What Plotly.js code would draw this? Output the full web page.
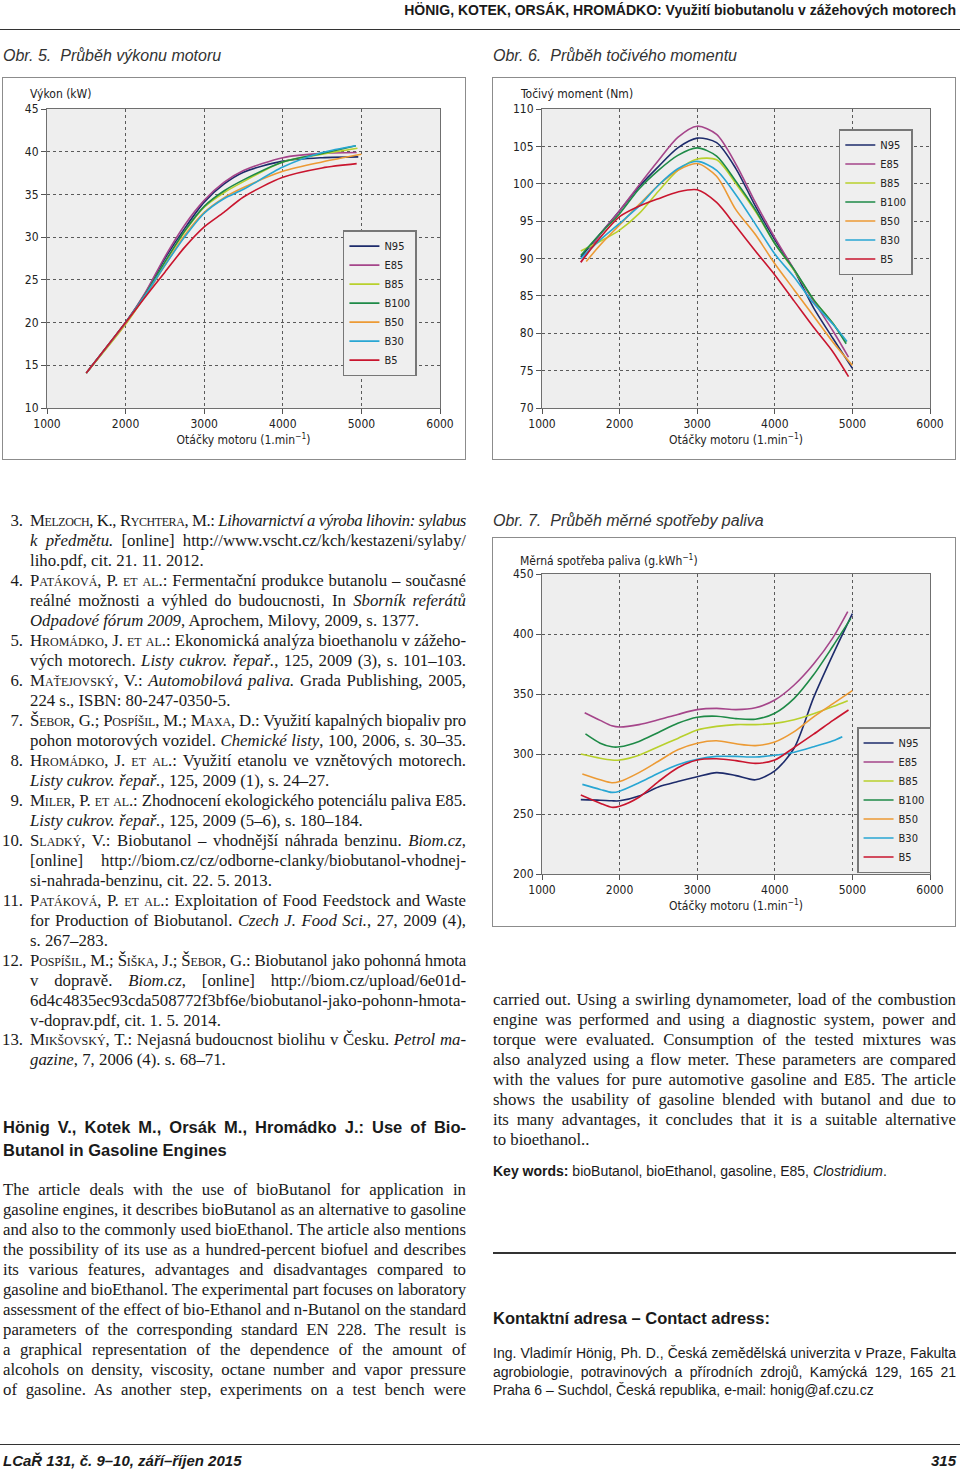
<!DOCTYPE html>
<html><head><meta charset="utf-8">
<script src="https://cdn.plot.ly/plotly-3.0.1.min.js"></script>
<style>
body{margin:0;background:#fff;}
#page{position:relative;width:960px;height:1471px;overflow:hidden;font-family:"Liberation Serif","Times New Roman",serif;color:#1a1a1a;}
.frame{position:absolute;border:1.5px solid #8c8c8c;box-sizing:border-box;pointer-events:none;}
.plot{position:absolute;}
.cap{position:absolute;font-family:"Liberation Sans",Arial,sans-serif;font-style:italic;font-size:16px;color:#333;line-height:20px;white-space:nowrap;}
.ln{position:absolute;font-size:16.8px;line-height:20px;height:20px;white-space:nowrap;text-align:left;}
.sc{font-variant:small-caps;}
.num{position:absolute;left:-32px;width:25px;text-align:right;}
.sans{font-family:"Liberation Sans",Arial,sans-serif;}
.rule{position:absolute;background:#333;}
</style>
</head><body><div id="page">

<div class="rule" style="left:0;top:29px;width:960px;height:1px;"></div>
<div class="sans" style="position:absolute;right:4px;top:1px;font-size:14px;font-weight:bold;line-height:18px;white-space:nowrap;">HÖNIG, KOTEK, ORSÁK, HROMÁDKO: Využití biobutanolu v zážehových motorech</div>

<div class="cap" style="left:3px;top:46px;">Obr. 5.&nbsp; Průběh výkonu motoru</div>
<div class="cap" style="left:493px;top:46px;">Obr. 6.&nbsp; Průběh točivého momentu</div>
<div class="cap" style="left:493px;top:511px;">Obr. 7.&nbsp; Průběh měrné spotřeby paliva</div>

<div id="c1" class="plot" style="left:2px;top:77px;width:464px;height:383px;"></div>
<div class="frame" style="left:2px;top:77px;width:464px;height:383px;"></div>
<div id="c2" class="plot" style="left:492px;top:77px;width:464px;height:383px;"></div>
<div class="frame" style="left:492px;top:77px;width:464px;height:383px;"></div>
<div id="c3" class="plot" style="left:492px;top:537px;width:464px;height:390px;"></div>
<div class="frame" style="left:492px;top:537px;width:464px;height:390px;"></div>

<div id="txt"></div>

<div class="rule" style="left:493px;top:1252px;width:463px;height:2px;"></div>
<div class="rule" style="left:0;top:1444px;width:960px;height:1px;"></div>
<div class="sans" style="position:absolute;left:3px;top:1452px;font-size:15px;font-weight:bold;font-style:italic;line-height:18px;">LCaŘ 131, č. 9–10, září–říjen 2015</div>
<div class="sans" style="position:absolute;right:4px;top:1452px;font-size:15px;font-weight:bold;font-style:italic;line-height:18px;">315</div>

</div>
<script>
// ---------- DATA ----------
const seriesNames = ['N95', 'E85', 'B85', 'B100', 'B50', 'B30', 'B5'];
const seriesColors = ['#1d2b6b', '#a5458a', '#b8d02c', '#1e8a47', '#ec9a34', '#28a6d3', '#c9152e'];
const xTicks = [1000, 2000, 3000, 4000, 5000, 6000];

// Obr. 5 – Výkon (kW)
const powerRpm = [1500, 2000, 2250, 2500, 2750, 3000, 3250, 3500, 4000, 4500];
const powerEndRpm = [4960, 4940, 4950, 4930, 5000, 4930, 4940];
const powerN95  = [14.1, 20.0, 23.4, 27.5, 31.0, 34.1, 36.2, 37.6, 38.9, 39.3, 39.4];
const powerE85  = [14.1, 20.0, 23.5, 27.7, 31.4, 34.3, 36.4, 37.8, 39.3, 39.8, 39.9];
const powerB85  = [14.1, 19.8, 23.2, 27.0, 30.6, 33.5, 35.2, 36.5, 38.8, 39.7, 40.4];
const powerB100 = [14.1, 20.0, 23.3, 27.1, 30.7, 33.6, 35.4, 36.7, 38.8, 39.8, 40.7];
const powerB50  = [14.1, 19.9, 23.1, 26.7, 30.2, 32.9, 34.6, 35.8, 37.7, 38.8, 39.7];
const powerB30  = [14.1, 20.0, 23.2, 26.7, 30.0, 32.8, 34.5, 35.6, 38.2, 39.9, 40.7];
const powerB5   = [14.1, 20.0, 23.0, 25.9, 28.8, 31.2, 32.9, 34.7, 37.0, 38.1, 38.6];

// Obr. 6 – Točivý moment (Nm)
const torqueRpm = [1500, 1750, 2000, 2250, 2500, 2750, 3000, 3250, 3500, 3750, 4000, 4250, 4500, 4750];
const torqueStartRpm = [1500, 1500, 1500, 1500, 1570, 1500, 1500];
const torqueEndRpm = [5000, 4950, 4920, 4920, 5000, 4930, 4950];
const torqueN95  = [90.2, 93.3, 96.4, 99.6, 102.3, 104.8, 106.1, 105.5, 102.0, 97.0, 92.5, 88.4, 83.4, 79.3, 75.3];
const torqueE85  = [89.5, 93.2, 96.4, 99.8, 103.1, 106.2, 107.7, 106.6, 102.6, 97.5, 92.8, 88.5, 84.3, 80.3, 76.8];
const torqueB85  = [91.0, 92.3, 93.8, 96.0, 99.0, 101.8, 103.3, 103.2, 100.0, 96.3, 92.0, 88.4, 84.5, 81.3, 78.8];
const torqueB100 = [90.4, 93.3, 96.0, 99.3, 101.8, 103.8, 104.8, 103.7, 100.3, 96.5, 92.0, 88.5, 84.5, 81.3, 78.6];
const torqueB50  = [89.6, 91.8, 94.5, 97.2, 99.8, 101.8, 102.7, 101.0, 96.5, 93.2, 89.3, 85.8, 82.3, 78.8, 75.7];
const torqueB30  = [90.0, 92.5, 94.7, 97.0, 99.8, 102.0, 103.0, 101.8, 98.5, 94.6, 90.6, 87.5, 84.0, 81.2, 78.9];
const torqueB5   = [89.5, 92.8, 95.6, 97.0, 98.0, 98.9, 99.2, 97.5, 94.3, 91.0, 87.8, 84.3, 80.8, 77.5, 74.2];

// Obr. 7 – Měrná spotřeba paliva (g.kWh-1)
const bsfcRpm = [1500, 1750, 1900, 2000, 2250, 2500, 2750, 3000, 3250, 3500, 3750, 4000, 4250, 4500, 4750];
const bsfcStartRpm = [1500, 1550, 1500, 1560, 1520, 1520, 1500];
const bsfcEndRpm = [5000, 4940, 4940, 4980, 5000, 4870, 4950];
const bsfcN95  = [262, 261.5, 261, 261, 265, 272.5, 277, 281, 284.5, 282, 278.5, 286, 305, 347, 383, 417];
const bsfcE85  = [334.4, 328, 323.5, 322.5, 324.5, 328.5, 333, 337, 338, 337, 338.5, 345, 357.5, 375, 397, 418.6];
const bsfcB85  = [300, 296.5, 295, 295, 299, 306, 313, 320, 323, 324.5, 324.5, 325.5, 328.5, 333.5, 339.5, 344.4];
const bsfcB100 = [316.7, 309, 306, 306, 310.5, 318, 325.6, 330.6, 331.5, 329.5, 329, 334, 346.4, 366, 390, 413];
const bsfcB50  = [283.3, 278.5, 276, 277, 284.5, 294, 303.5, 309, 311, 308.5, 307, 310, 318.6, 331, 342, 352.8];
const bsfcB30  = [274.7, 270.5, 268, 269, 276, 284, 291, 295.5, 298, 298, 297.5, 299, 301.5, 306, 311, 314.4];
const bsfcB5   = [265.8, 259, 255.6, 256.5, 264, 277, 288.5, 295, 296, 294.5, 292.2, 295, 305.5, 316.5, 328, 336.7];

// ---------- CHARTS ----------
const FONT = '"Liberation Sans Narrow","DejaVu Sans Condensed","Arial Narrow",sans-serif';
const XTITLE = 'Otáčky motoru (1.min<sup>−1</sup>)';

function traces(xFn, ysets) {
  return ysets.map((ys, i) => ({
    type: 'scatter', mode: 'lines', name: seriesNames[i],
    x: xFn(i), y: ys,
    line: {color: seriesColors[i], width: 1.6, shape: 'spline', smoothing: 0.8}
  }));
}

function layoutFor(o) {
  const axisBase = {
    showgrid: true, gridcolor: '#5a5a5a', griddash: 'dot', gridwidth: 1,
    ticks: 'outside', ticklen: 5, tickcolor: '#555', tickwidth: 1,
    showline: true, linecolor: '#6f6f6f', linewidth: 1, mirror: true,
    zeroline: false, tickfont: {family: FONT, size: 12, color: '#222'}
  };
  return {
    width: o.w, height: o.h,
    margin: {l: o.l, r: o.r, t: o.t, b: o.b},
    paper_bgcolor: 'rgba(0,0,0,0)', plot_bgcolor: '#eeeeee',
    font: {family: FONT, size: 12, color: '#222'},
    showlegend: true,
    legend: {x: o.lx, y: o.ly, xanchor: 'left', yanchor: 'top', bgcolor: '#efefef',
             bordercolor: '#777', borderwidth: 1.5, font: {family: FONT, size: 11, color: '#222'},
             tracegroupgap: 0, itemwidth: 30},
    xaxis: Object.assign({}, axisBase, {range: [1000, 6000], tickvals: xTicks, ticktext: xTicks.map(String),
             title: {text: XTITLE, standoff: 2, font: {family: FONT, size: 12, color: '#222'}}}),
    yaxis: Object.assign({}, axisBase, {range: o.yr, dtick: o.dt, tick0: o.yr[0]}),
    annotations: [{text: o.yt, xref: 'paper', yref: 'paper', x: o.ax, y: o.ay,
                   xanchor: 'left', yanchor: 'middle', showarrow: false,
                   font: {family: FONT, size: 12, color: '#222'}}]
  };
}
const cfg = {displayModeBar: false, staticPlot: true};

Plotly.newPlot('c1',
  traces(i => powerRpm.concat([powerEndRpm[i]]),
         [powerN95, powerE85, powerB85, powerB100, powerB50, powerB30, powerB5]),
  layoutFor({w: 464, h: 383, l: 45, r: 26, t: 32, b: 52, yr: [10, 45], dt: 5,
             lx: 0.753, ly: 0.595, yt: 'Výkon (kW)', ax: -0.048, ay: 1.05}), cfg);

Plotly.newPlot('c2',
  traces(i => [torqueStartRpm[i]].concat(torqueRpm.slice(1), [torqueEndRpm[i]]),
         [torqueN95, torqueE85, torqueB85, torqueB100, torqueB50, torqueB30, torqueB5]),
  layoutFor({w: 464, h: 383, l: 50, r: 26, t: 32, b: 52, yr: [70, 110], dt: 5,
             lx: 0.765, ly: 0.933, yt: 'Točivý moment (Nm)', ax: -0.062, ay: 1.05}), cfg);

Plotly.newPlot('c3',
  traces(i => [bsfcStartRpm[i]].concat(bsfcRpm.slice(1), [bsfcEndRpm[i]]),
         [bsfcN95, bsfcE85, bsfcB85, bsfcB100, bsfcB50, bsfcB30, bsfcB5]),
  layoutFor({w: 464, h: 390, l: 50, r: 26, t: 37, b: 53, yr: [200, 450], dt: 50,
             lx: 0.812, ly: 0.49, yt: 'Měrná spotřeba paliva (g.kWh<sup>−1</sup>)', ax: -0.062, ay: 1.047}), cfg);

// ---------- TEXT ----------
const sc = s => '<span class="sc">' + s + '</span>';
const refLines = [
  [521, '3.', sc('Melzoch') + ', K., ' + sc('Rychtera') + ', M.: <i>Lihovarnictví a výroba lihovin: sylabus</i>', 1],
  [541, '', '<i>k předmětu.</i> [online] http://www.vscht.cz/kch/kestazeni/sylaby/', 1],
  [561, '', 'liho.pdf, cit. 21. 11. 2012.', 0],
  [581, '4.', sc('Patáková') + ', P. ' + sc('et al.') + ': Fermentační produkce butanolu – současné', 1],
  [601, '', 'reálné možnosti a výhled do budoucnosti, In <i>Sborník referátů</i>', 1],
  [621, '', '<i>Odpadové fórum 2009</i>, Aprochem, Milovy, 2009, s. 1377.', 0],
  [641, '5.', sc('Hromádko') + ', J. ' + sc('et al.') + ': Ekonomická analýza bioethanolu v zážeho-', 1],
  [661, '', 'vých motorech. <i>Listy cukrov. řepař.</i>, 125, 2009 (3), s. 101–103.', 1],
  [681, '6.', sc('Maťejovský') + ', V.: <i>Automobilová paliva.</i> Grada Publishing, 2005,', 1],
  [701, '', '224 s., ISBN: 80-247-0350-5.', 0],
  [721, '7.', sc('Šebor') + ', G.; ' + sc('Pospíšil') + ', M.; ' + sc('Maxa') + ', D.: Využití kapalných biopaliv pro', 1],
  [741, '', 'pohon motorových vozidel. <i>Chemické listy</i>, 100, 2006, s. 30–35.', 1],
  [761, '8.', sc('Hromádko') + ', J. ' + sc('et al.') + ': Využití etanolu ve vznětových motorech.', 1],
  [781, '', '<i>Listy cukrov. řepař.</i>, 125, 2009 (1), s. 24–27.', 0],
  [801, '9.', sc('Miler') + ', P. ' + sc('et al.') + ': Zhodnocení ekologického potenciálu paliva E85.', 1],
  [821, '', '<i>Listy cukrov. řepař.</i>, 125, 2009 (5–6), s. 180–184.', 0],
  [841, '10.', sc('Sladký') + ', V.: Biobutanol – vhodnější náhrada benzinu. <i>Biom.cz</i>,', 1],
  [861, '', '[online] http://biom.cz/cz/odborne-clanky/biobutanol-vhodnej-', 1],
  [881, '', 'si-nahrada-benzinu, cit. 22. 5. 2013.', 0],
  [901, '11.', sc('Patáková') + ', P. ' + sc('et al.') + ': Exploitation of Food Feedstock and Waste', 1],
  [921, '', 'for Production of Biobutanol. <i>Czech J. Food Sci.</i>, 27, 2009 (4),', 1],
  [941, '', 's. 267–283.', 0],
  [961, '12.', sc('Pospíšil') + ', M.; ' + sc('Šiška') + ', J.; ' + sc('Šebor') + ', G.: Biobutanol jako pohonná hmota', 1],
  [981, '', 'v dopravě. <i>Biom.cz</i>, [online] http://biom.cz/upload/6e01d-', 1],
  [1001, '', '6d4c4835ec93cda508772f3bf6e/biobutanol-jako-pohonn-hmota-', 1],
  [1021, '', 'v-doprav.pdf, cit. 1. 5. 2014.', 0],
  [1040, '13.', sc('Mikšovský') + ', T.: Nejasná budoucnost biolihu v Česku. <i>Petrol ma-</i>', 1],
  [1060, '', '<i>gazine</i>, 7, 2006 (4). s. 68–71.', 0]
];
const abstractLines = [
  'The article deals with the use of bioButanol for application in',
  'gasoline engines, it describes bioButanol as an alternative to gasoline',
  'and also to the commonly used bioEthanol. The article also mentions',
  'the possibility of its use as a hundred-percent biofuel and describes',
  'its various features, advantages and disadvantages compared to',
  'gasoline and bioEthanol. The experimental part focuses on laboratory',
  'assessment of the effect of bio-Ethanol and n-Butanol on the standard',
  'parameters of the corresponding standard EN 228. The result is',
  'a graphical representation of the dependence of the amount of',
  'alcohols on density, viscosity, octane number and vapor pressure',
  'of gasoline. As another step, experiments on a test bench were'
];
const abstractLines2 = [
  'carried out. Using a swirling dynamometer, load of the combustion',
  'engine was performed and using a diagnostic system, power and',
  'torque were evaluated. Consumption of the tested mixtures was',
  'also analyzed using a flow meter. These parameters are compared',
  'with the values for pure automotive gasoline and E85. The article',
  'shows the usability of gasoline blended with butanol and due to',
  'its many advantages, it concludes that it is a suitable alternative',
  'to bioethanol..'
];

let html = '';
function line(x, y, w, inner, just, extraCls, style, num) {
  html += '<div class="ln ' + (extraCls || '') + '" data-w="' + w + '" data-j="' + (just ? 1 : 0) +
          '" style="left:' + x + 'px;width:' + w + 'px;top:' + y + 'px;' + (style || '') + '">' +
          (num ? '<span class="num">' + num + '</span>' : '') + '<span class="in">' + inner + '</span></div>';
}
refLines.forEach(([y, n, t, j]) => line(30, y - 10, 436, t, j, '', '', n));
abstractLines.forEach((t, i) => line(3, 1180 + 20 * i, 463, t, 1));
abstractLines2.forEach((t, i) => line(493, 990 + 20 * i, 463, t, i < abstractLines2.length - 1));
line(3, 1117, 463, 'Hönig V., Kotek M., Orsák M., Hromádko J.: Use of Bio-', 1, 'sans', 'font-size:16.5px;font-weight:bold;');
line(3, 1140, 463, 'Butanol in Gasoline Engines', 0, 'sans', 'font-size:16.5px;font-weight:bold;');
line(493, 1161, 463, '<b>Key words:</b> bioButanol, bioEthanol, gasoline, E85, <i>Clostridium</i>.', 0, 'sans', 'font-size:14px;');
line(493, 1308, 463, 'Kontaktní adresa – Contact adress:', 0, 'sans', 'font-size:16.5px;font-weight:bold;');
line(493, 1343, 463, 'Ing. Vladimír Hönig, Ph. D., Česká zemědělská univerzita v Praze, Fakulta', 1, 'sans', 'font-size:14px;');
line(493, 1362, 463, 'agrobiologie, potravinových a přírodních zdrojů, Kamýcká 129, 165 21', 1, 'sans', 'font-size:14px;');
line(493, 1380, 463, 'Praha 6 – Suchdol, Česká republika, e-mail: honig@af.czu.cz', 0, 'sans', 'font-size:14px;');
document.getElementById('txt').innerHTML = html;

// justify each line exactly to its width by word-spacing (or compress if too long)
document.querySelectorAll('.ln').forEach(el => {
  const inner = el.querySelector('.in');
  const target = +el.dataset.w;
  const natural = inner.getBoundingClientRect().width;
  const text = inner.textContent;
  const spaces = (text.match(/ /g) || []).length;
  if (natural > target) {
    inner.style.letterSpacing = ((target - natural) / text.length).toFixed(3) + 'px';
  } else if (el.dataset.j === '1') {
    if (spaces > 0) inner.style.wordSpacing = ((target - natural) / spaces).toFixed(3) + 'px';
    else inner.style.letterSpacing = ((target - natural) / Math.max(1, text.length - 1)).toFixed(3) + 'px';
  }
});
</script>
</body></html>
